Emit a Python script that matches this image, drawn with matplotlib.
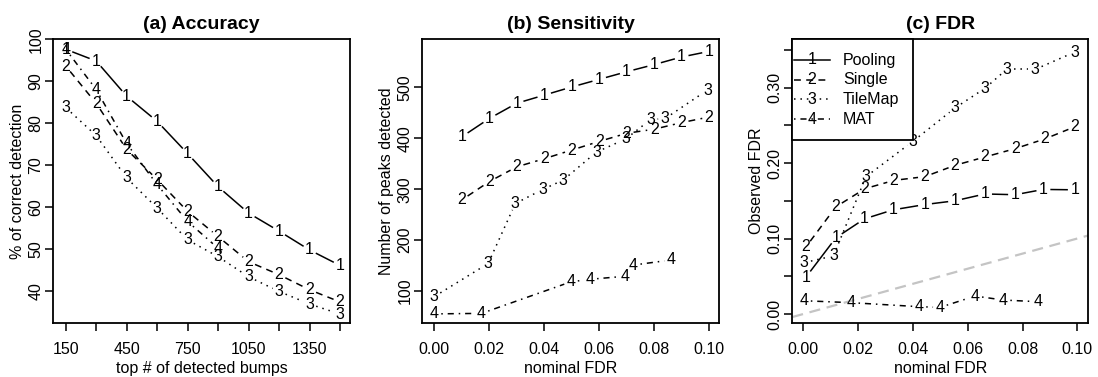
import numpy as np
import matplotlib
matplotlib.use("Agg")
import matplotlib.pyplot as plt
from matplotlib.lines import Line2D
from matplotlib.patches import Rectangle

plt.rcParams['font.family'] = ['Liberation Sans', 'DejaVu Sans']

# ---------------- data ----------------
methods = ["Pooling", "Single", "TileMap", "MAT"]
marks = ["1", "2", "3", "4"]

# (a) Accuracy
acc_x = [150, 300, 450, 600, 750, 900, 1050, 1200, 1350, 1500]
acc_pool = [97.6, 94.8, 86.4, 80.4, 72.7, 64.8, 58.5, 54.2, 49.7, 46.0]
acc_single = [93.6, 84.7, 73.7, 66.5, 58.9, 52.9, 46.9, 43.8, 40.2, 37.3]
acc_tile = [83.7, 77.0, 66.9, 59.7, 52.1, 48.1, 43.3, 39.8, 36.8, 34.4]
acc_mat_x = [150, 300, 450, 600, 750, 900]
acc_mat = [97.6, 88.0, 75.1, 65.3, 56.5, 50.1]

# (b) Sensitivity
sen_pool_x = [0.01, 0.02, 0.03, 0.04, 0.05, 0.06, 0.07, 0.08, 0.09, 0.10]
sen_pool = [403, 439, 469, 485, 501, 516, 531, 545, 560, 571]
sen_single_x = [0.01, 0.02, 0.03, 0.04, 0.05, 0.06, 0.07, 0.08, 0.09, 0.10]
sen_single = [279, 315, 344, 360, 377, 394, 410, 418, 431, 442]
sen_tile_x = [0.0, 0.0196, 0.0295, 0.0396, 0.0469, 0.059, 0.0697, 0.0787, 0.084, 0.0994]
sen_tile = [89, 154, 272, 300, 318, 373, 399, 437, 439, 495]
sen_mat_x = [0.0, 0.0172, 0.0497, 0.0567, 0.0695, 0.0725, 0.0862]
sen_mat = [55, 56, 118, 123, 129, 151, 161]

# (c) FDR
fdr_pool_x = [0.001, 0.0119, 0.0223, 0.0328, 0.0444, 0.0554, 0.0663, 0.0773, 0.0876, 0.0991]
fdr_pool = [0.049, 0.101, 0.126, 0.138, 0.145, 0.150, 0.159, 0.158, 0.165, 0.1645]
fdr_single_x = [0.001, 0.0119, 0.0225, 0.0331, 0.0444, 0.0554, 0.0663, 0.0773, 0.0882, 0.0991]
fdr_single = [0.089, 0.142, 0.166, 0.177, 0.182, 0.197, 0.208, 0.219, 0.232, 0.248]
fdr_tile_x = [0.0003, 0.011, 0.0229, 0.0401, 0.0554, 0.0663, 0.0742, 0.0846, 0.0991]
fdr_tile = [0.068, 0.077, 0.182, 0.229, 0.273, 0.299, 0.324, 0.324, 0.347]
fdr_mat_x = [0.0002, 0.0176, 0.0423, 0.0499, 0.0627, 0.073, 0.0858]
fdr_mat = [0.0176, 0.015, 0.0097, 0.0088, 0.0238, 0.0185, 0.0163]

# ---------------- style ----------------
LW = 1.1
styles = ['-', (0, (4.5, 3.5)), (0, (1, 3.2)), (0, (1, 3.2, 4, 3.2))]
TICK_FS = 11.5
MARK_FS = 11.5
GAP = 7.0

fig = plt.figure(figsize=(10.98, 3.77), dpi=100)
W, H = 1098, 377


def make_axes(left, right, top, bottom):
    return fig.add_axes([left / W, 1 - bottom / H, (right - left) / W, (bottom - top) / H])


def style_axes(ax):
    for s in ax.spines.values():
        s.set_linewidth(1.3)
    ax.tick_params(direction='out', length=6, width=1.1, labelsize=TICK_FS)
    ax.tick_params(axis='x', pad=7.5)
    ax.tick_params(axis='y', pad=1)


def type_b(ax, x, y, mark, ls):
    pts = ax.transData.transform(np.column_stack([x, y]))
    inv = ax.transData.inverted()
    for i in range(len(pts) - 1):
        p0, p1 = pts[i], pts[i + 1]
        d = p1 - p0
        L = np.hypot(*d)
        if L <= 2 * GAP:
            continue
        u = d / L
        a, b = inv.transform(np.array([p0 + u * GAP, p1 - u * GAP]))
        ax.plot([a[0], b[0]], [a[1], b[1]], color='k', lw=LW, ls=ls,
                solid_capstyle='butt', dash_capstyle='butt')
    for xi, yi in zip(x, y):
        ax.text(xi, yi, mark, ha='center', va='center', fontsize=MARK_FS, color='k')


def labels(ax, title, xl, yl):
    ax.set_title(title, fontsize=14, fontweight='bold', pad=7)
    ax.set_xlabel(xl, fontsize=TICK_FS, labelpad=3)
    ax.set_ylabel(yl, fontsize=TICK_FS, labelpad=2.5)


# ---------- (a) ----------
axa = make_axes(53.3, 350, 38.5, 323.3)
axa.set_xlim(89, 1549)
axa.set_ylim(32.2, 100.17)
style_axes(axa)
xt = acc_x
axa.set_xticks(xt, [str(v) if i % 2 == 0 else '' for i, v in enumerate(xt)])
yt = [40, 50, 60, 70, 80, 90, 100]
axa.set_yticks(yt, [str(v) for v in yt], rotation=90, va='center')
type_b(axa, acc_x, acc_pool, marks[0], styles[0])
type_b(axa, acc_x, acc_single, marks[1], styles[1])
type_b(axa, acc_x, acc_tile, marks[2], styles[2])
type_b(axa, acc_mat_x, acc_mat, marks[3], styles[3])
labels(axa, "(a) Accuracy", "top # of detected bumps", "% of correct detection")

# ---------- (b) ----------
axb = make_axes(422.3, 719, 38.5, 323.3)
axb.set_xlim(-0.00436, 0.1036)
axb.set_ylim(36.5, 596.3)
style_axes(axb)
xtb = [0.0, 0.02, 0.04, 0.06, 0.08, 0.10]
axb.set_xticks(xtb, ["%.2f" % v for v in xtb])
ytb = [100, 200, 300, 400, 500]
axb.set_yticks(ytb, [str(v) for v in ytb], rotation=90, va='center')
type_b(axb, sen_pool_x, sen_pool, marks[0], styles[0])
type_b(axb, sen_single_x, sen_single, marks[1], styles[1])
type_b(axb, sen_tile_x, sen_tile, marks[2], styles[2])
type_b(axb, sen_mat_x, sen_mat, marks[3], styles[3])
labels(axb, "(b) Sensitivity", "nominal FDR", "Number of peaks detected")

# ---------- (c) ----------
axc = make_axes(792.3, 1088.3, 38.5, 323.3)
axc.set_xlim(-0.00401, 0.104)
axc.set_ylim(-0.0123, 0.3649)
style_axes(axc)
axc.set_xticks(xtb, ["%.2f" % v for v in xtb])
ytc = [0.0, 0.05, 0.10, 0.15, 0.20, 0.25, 0.30, 0.35]
axc.set_yticks(ytc, ["%.2f" % v if i % 2 == 0 else '' for i, v in enumerate(ytc)],
               rotation=90, va='center')
axc.axline((0, 0), slope=1, color='#c4c4c4', lw=1.6, ls=(0, (5, 3)))
type_b(axc, fdr_pool_x, fdr_pool, marks[0], styles[0])
type_b(axc, fdr_single_x, fdr_single, marks[1], styles[1])
type_b(axc, fdr_tile_x, fdr_tile, marks[2], styles[2])
type_b(axc, fdr_mat_x, fdr_mat, marks[3], styles[3])
labels(axc, "(c) FDR", "nominal FDR", "Observed FDR")

# legend box (R-style, top-left, flush with the frame)
lw_px, lh_px = 120.5, 101.5
aw, ah = 296.0, 284.8
axc.add_patch(Rectangle((0, 1 - lh_px / ah), lw_px / aw, lh_px / ah, transform=axc.transAxes,
                        facecolor='white', edgecolor='k', lw=1.3, zorder=5, clip_on=False))
row_y = [21.5, 41.0, 60.8, 80.5]
for ry, ls, mk, name in zip(row_y, styles, marks, methods):
    yy = 1 - ry / ah
    axc.add_line(Line2D([1.5 / aw, 37.5 / aw], [yy, yy], transform=axc.transAxes,
                        color='k', lw=LW, ls=ls, zorder=6))
    axc.text(19.5 / aw, yy, mk, transform=axc.transAxes, ha='center', va='center',
             fontsize=MARK_FS, zorder=7)
    axc.text(50.5 / aw, yy, name, transform=axc.transAxes, ha='left', va='center',
             fontsize=TICK_FS, zorder=7)

fig.savefig("out.png", dpi=100)
